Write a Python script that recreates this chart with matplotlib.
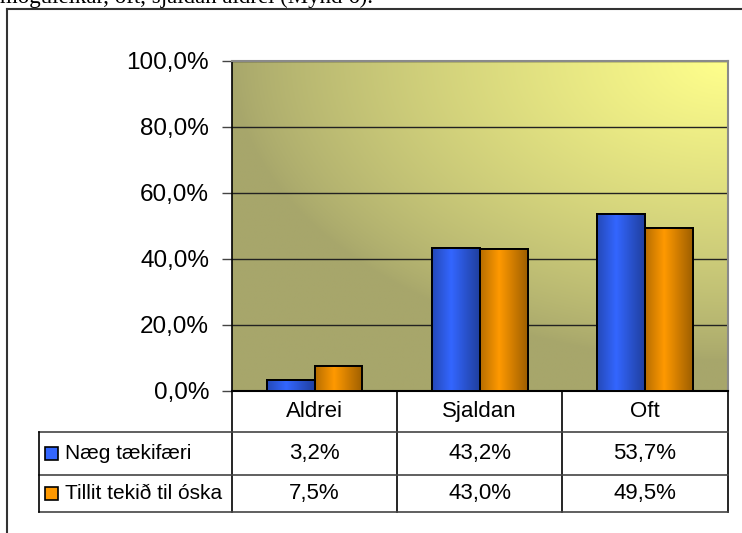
import numpy as np
import matplotlib
matplotlib.use('Agg')
import matplotlib.pyplot as plt
import matplotlib.colors as mcolors
from matplotlib.lines import Line2D
from matplotlib.patches import Rectangle
from matplotlib.ticker import FuncFormatter, MultipleLocator

plt.rcParams['font.family'] = ['Liberation Sans', 'DejaVu Sans']

categories = ['Aldrei', 'Sjaldan', 'Oft']
series_names = ['Næg tækifæri', 'Tillit tekið til óska']
naeg = [3.2, 43.2, 53.7]
tillit = [7.5, 43.0, 49.5]
series_colors = ['#3366FF', '#FF9900']
caption = 'möguleikar, oft, sjaldan aldrei (Mynd 6).'

W, H = 742, 533


def fx(x):
    return x / W


def fy(y):
    return 1 - y / H


def pct(v):
    return f'{v:.1f}%'.replace('.', ',')


def shade(color, n=64):
    base = np.array(mcolors.to_rgb(color))
    f = np.interp(np.linspace(0, 1, n), [0, 0.4, 1], [0.72, 1.0, 0.62])
    return np.clip(base[None, :] * f[:, None], 0, 1)[None, :, :]


fig = plt.figure(figsize=(W / 100, H / 100), dpi=100)
ax = fig.add_axes([fx(232), fy(391), 495.5 / W, 330 / H])

# background gradient: olive -> pale yellow towards the top right
ny, nx = 200, 300
xx, yy = np.meshgrid(np.linspace(0, 1, nx), np.linspace(0, 1, ny))
t = np.clip(1 - np.hypot(1 - xx, yy * 1.1), 0, 1) ** 0.8
olive = np.array(mcolors.to_rgb('#A7A66B'))
yellow = np.array(mcolors.to_rgb('#FFFF8C'))
bg = olive[None, None, :] + t[:, :, None] * (yellow - olive)[None, None, :]
ax.imshow(bg, extent=(0, 1, 0, 1), transform=ax.transAxes, aspect='auto', zorder=0)

x = np.arange(len(categories))
bw = 0.29
all_series = [naeg, tillit]
for k, (vals, col) in enumerate(zip(all_series, series_colors)):
    offs = (k - 0.5) * bw
    bars = ax.bar(x + offs, vals, bw, color=col, edgecolor='black', linewidth=1.4, zorder=3)
    for b in bars:
        im = ax.imshow(shade(col), extent=(b.get_x(), b.get_x() + b.get_width(), 0, b.get_height()),
                       aspect='auto', zorder=3.1)
        im.set_clip_path(b)
        edge = Rectangle((b.get_x(), 0), b.get_width(), b.get_height(), fill=False,
                         edgecolor='black', linewidth=1.4, zorder=3.2)
        ax.add_patch(edge)

ax.set_xlim(-0.5, len(categories) - 0.5)
ax.set_ylim(0, 100)
ax.set_aspect('auto')
ax.yaxis.set_major_locator(MultipleLocator(20))
ax.yaxis.set_major_formatter(FuncFormatter(lambda v, p: pct(v)))
ax.set_xticks([])
ax.tick_params(axis='y', length=7.5, width=1, color='#444444', pad=9, labelsize=17.5)
ax.grid(axis='y', color='#222222', linewidth=1)
ax.set_axisbelow(True)
for s in ['top', 'right']:
    ax.spines[s].set_color('#8a8a8a')
    ax.spines[s].set_linewidth(1.5)
ax.spines['left'].set_color('black')
ax.spines['bottom'].set_color('black')
ax.spines['left'].set_linewidth(1.2)
ax.spines['bottom'].set_linewidth(1.5)

# data table under the axes
xt = ax.get_xaxis_transform()
ax_h = 330
rows_px = [391, 432, 475, 512]


def ay(ypx):
    return (391 - ypx) / ax_h


edges = np.arange(len(categories) + 1) - 0.5
for e in edges:
    ax.add_line(Line2D([e, e], [ay(391), ay(512)], transform=xt, color='black',
                       linewidth=1.2, clip_on=False))
for ypx in rows_px[1:]:
    fig.add_artist(Line2D([fx(39), fx(727.5)], [fy(ypx), fy(ypx)], color='#444444', linewidth=1.2))
fig.add_artist(Line2D([fx(39), fx(39)], [fy(432), fy(512)], color='black', linewidth=1.2))

for i, c in enumerate(categories):
    ax.text(i, ay((rows_px[0] + rows_px[1]) / 2), c, transform=xt, ha='center', va='center',
            fontsize=16, clip_on=False)
for r, (name, vals, col) in enumerate(zip(series_names, all_series, series_colors)):
    yc = (rows_px[r + 1] + rows_px[r + 2]) / 2
    for i, v in enumerate(vals):
        ax.text(i, ay(yc), pct(v), transform=xt, ha='center', va='center', fontsize=16, clip_on=False)
    fig.add_artist(Rectangle((fx(45), fy(yc + 6.5)), 13 / W, 13 / H, facecolor=col,
                             edgecolor='black', linewidth=1.2))
    fig.text(fx(65), fy(yc), name, ha='left', va='center', fontsize=15)

# frame lines and the clipped caption line above the chart
fig.add_artist(Line2D([fx(7), 1], [fy(9), fy(9)], color='#333333', linewidth=1.5))
fig.add_artist(Line2D([fx(7), fx(7)], [fy(9), 0], color='#333333', linewidth=1.5))
fig.text(0, fy(3), caption, family=['Liberation Serif', 'DejaVu Serif'], fontsize=16.5,
         va='baseline', ha='left')

fig.savefig('out.png', dpi=100)
